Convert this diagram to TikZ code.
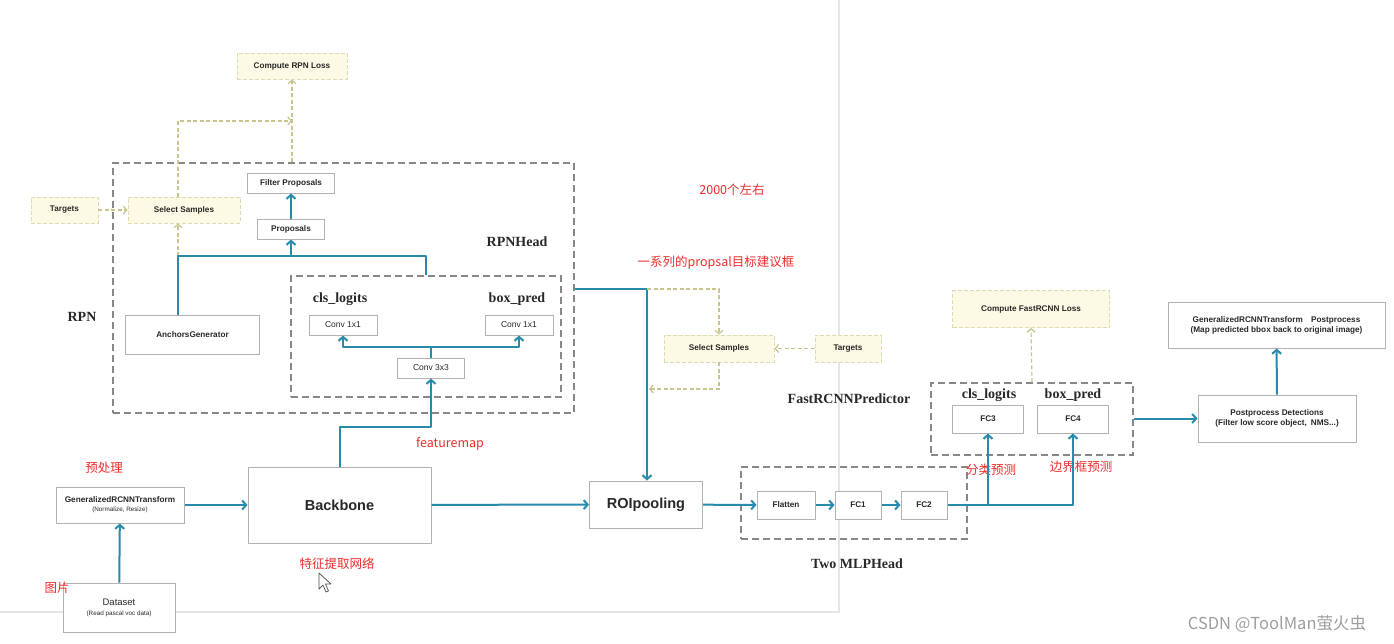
\documentclass[tikz,border=0pt]{standalone}
\usepackage{fontspec}
\setmainfont{Liberation Sans}
\newfontfamily\serifb{Liberation Serif}
\newfontfamily\cjk{Noto Sans CJK SC}
\usetikzlibrary{arrows.meta}
\definecolor{tealA}{RGB}{40,138,172}
\definecolor{oliveA}{RGB}{200,196,140}
\definecolor{yfill}{RGB}{252,250,228}
\definecolor{yborder}{RGB}{222,219,180}
\definecolor{gbox}{RGB}{178,178,178}
\definecolor{gdash}{RGB}{135,135,135}
\definecolor{redt}{RGB}{240,45,45}
\definecolor{txt}{RGB}{40,40,40}
\newcommand\subtxt[1]{{\mdseries\fontsize{6.3}{8}\selectfont #1}}
\tikzset{
  box/.style={draw=gbox, fill=white, line width=1pt, inner sep=0pt, align=center,
    text=txt, font=\bfseries\fontsize{8.2}{10}\selectfont},
  ybox/.style={draw=yborder, fill=yfill, dash pattern=on 4pt off 2pt, line width=0.9pt,
    inner sep=0pt, align=center, text=txt, font=\bfseries\fontsize{8.2}{10}\selectfont},
  grp/.style={draw=gdash, dash pattern=on 7pt off 4pt, line width=1.2pt, inner sep=0pt},
  tline/.style={draw=tealA, line width=2pt, line join=round},
  flow/.style={tline, -{Straight Barb[length=4pt,width=9pt]}},
  dline/.style={draw=oliveA, line width=1.2pt, dash pattern=on 4pt off 2.5pt},
  dflow/.style={dline, -{Straight Barb[length=3.5pt,width=8pt]}},
  lbl/.style={font=\serifb\bfseries\fontsize{14}{16}\selectfont, text=txt, inner sep=0pt},
  note/.style={font=\cjk\fontsize{12.5}{15}\selectfont, text=redt, inner sep=0pt},
}
\begin{document}
\begin{tikzpicture}[x=1pt,y=-1pt]
\useasboundingbox (0,0) rectangle (1394,643);
\fill[white] (0,0) rectangle (1394,643);
% faint screenshot edges
\draw[black!10, line width=1.3pt] (839,0) -- (839,612) -- (0,612);

% group boxes
\node[grp, minimum width=461, minimum height=250] (rpn) at (343.5,288) {};
\node[grp, minimum width=270, minimum height=121] (rpnhead) at (426,336.5) {};
\node[grp, minimum width=202, minimum height=72] (pred) at (1032,419) {};
\node[grp, minimum width=226, minimum height=72] (mlp) at (854,503) {};

% yellow boxes
\node[ybox, minimum width=110, minimum height=26] (rpnloss) at (292,66) {Compute RPN Loss};
\node[ybox, minimum width=67, minimum height=26] (tr1) at (64.5,210) {Targets};
\node[ybox, minimum width=112, minimum height=26] (ss1) at (184,210) {Select Samples};
\node[ybox, minimum width=110, minimum height=27] (ss2) at (719,348.5) {Select Samples};
\node[ybox, minimum width=66, minimum height=27] (tr2) at (848,348.5) {Targets};
\node[ybox, minimum width=157, minimum height=37] (loss2) at (1031,309) {Compute FastRCNN Loss};

% plain boxes
\node[box, minimum width=87, minimum height=20] (filt) at (291,183) {Filter Proposals};
\node[box, minimum width=67, minimum height=20] (prop) at (291,229) {Proposals};
\node[box, minimum width=134, minimum height=39] (ag) at (192.5,334.5) {AnchorsGenerator};
\node[box, minimum width=68, minimum height=20, font=\fontsize{8.5}{10}\selectfont] (c11a) at (343,325) {Conv 1x1};
\node[box, minimum width=68, minimum height=20, font=\fontsize{8.5}{10}\selectfont] (c11b) at (519,325) {Conv 1x1};
\node[box, minimum width=67, minimum height=20, font=\fontsize{8.5}{10}\selectfont] (c33) at (431,368) {Conv 3x3};
\node[box, minimum width=128, minimum height=36] (grt) at (120,505) {GeneralizedRCNNTransform\\[-1pt]\subtxt{(Normalize, Resize)}};
\node[box, minimum width=112, minimum height=49, font=\fontsize{9.5}{11}\selectfont] (ds) at (119,607.5) {Dataset\\[-1pt]\subtxt{(Read pascal voc data)}};
\node[box, minimum width=183, minimum height=76, font=\bfseries\fontsize{14.5}{16}\selectfont] (bb) at (339.5,505) {Backbone};
\node[box, minimum width=113, minimum height=47, font=\bfseries\fontsize{14.5}{16}\selectfont] (roi) at (646,504.5) {ROIpooling};
\node[box, minimum width=58, minimum height=28] (flat) at (786,505) {Flatten};
\node[box, minimum width=46, minimum height=28] (fc1) at (858,505) {FC1};
\node[box, minimum width=46, minimum height=28] (fc2) at (924,505) {FC2};
\node[box, minimum width=71, minimum height=28] (fc3) at (988,419) {FC3};
\node[box, minimum width=71, minimum height=28] (fc4) at (1073,419) {FC4};
\node[box, minimum width=158, minimum height=47] (pp) at (1277,418.5) {Postprocess Detections\\(Filter low score object,\enspace NMS...)};
\node[box, minimum width=217, minimum height=46] (gtp) at (1276.5,325) {GeneralizedRCNNTransform\quad Postprocess\\(Map predicted bbox back to original image)};

% labels
\node[lbl] (lrpn) at (82,317) {RPN};
\node[lbl] (lrpnhead) at (517,242) {RPNHead};
\node[lbl] (lcls1) at (340,299) {cls\_logits};
\node[lbl] (lbox1) at (517,299) {box\_pred};
\node[lbl] (lpred) at (849,399) {FastRCNNPredictor};
\node[lbl] (lcls2) at (989,395) {cls\_logits};
\node[lbl] (lbox2) at (1073,395) {box\_pred};
\node[lbl] (lmlp) at (857,564) {Two MLPHead};

% red notes
\node[note] (n1) at (732,190) {2000个左右};
\node[note] (n2) at (716,263) {一系列的propsal目标建议框};
\node[note] (n3) at (450,444) {featuremap};
\node[note] (n4) at (104,468) {预处理};
\node[note] (n5) at (57,588) {图片};
\node[note] (n6) at (337,564) {特征提取网络};
\node[note] (n7) at (991,470) {分类预测};
\node[note] (n8) at (1081,467) {边界框预测};

% watermark
\node[font=\cjk\fontsize{16.5}{18}\selectfont, text=black!38, inner sep=0pt] (wm) at (1277,624) {CSDN @ToolMan萤火虫};

% coordinates
\coordinate (t1) at (178,256);
\coordinate (t2) at (426,256);
\coordinate (j1) at (292,121);
\coordinate (c1) at (431,347);
\coordinate (b1) at (340,427);
\coordinate (r1) at (647,289);
\coordinate (r2) at (649,389);
\coordinate (f1) at (988,505);

% RPN region
\draw[dflow] (tr1) -- (ss1);
\draw[dflow] (t1) -- (ss1.south -| t1);
\draw[dflow] (ss1.north -| t1) |- (j1);
\draw[dflow] (rpn.north -| rpnloss) -- (rpnloss.south);
\draw[tline] (ag.north -| t1) -- (t1) -- (t2) -- (rpnhead.north -| t2);
\draw[flow] (prop.south |- t1) -- (prop.south);
\draw[flow] (prop) -- (filt);
\draw[tline] (c33.north) -- (c1);
\draw[flow] (c1) -| (c11a.south);
\draw[flow] (c1) -| (c11b.south);
\draw[flow] (bb.north -| b1) -- (b1) -| (c33.south);

% main flow
\draw[flow] (ds) -- (grt);
\draw[flow] (grt.east) -- (bb.west |- grt.east);
\draw[flow] (bb) -- (roi);
\draw[flow] (rpn.east |- r1) -- (r1) -- (roi.north -| r1);
\draw[dflow] (r1) -| (ss2.north);
\draw[dflow] (ss2.south) |- (r2);
\draw[dflow] (tr2) -- (ss2);
\draw[flow] (roi) -- (flat);
\draw[flow] (flat) -- (fc1);
\draw[flow] (fc1) -- (fc2);
\draw[tline] (fc2.east) -- (f1);
\draw[flow] (f1) -- (fc3.south);
\draw[flow] (f1) -| (fc4.south);
\draw[dflow] (pred.north) -- (loss2.south);
\draw[flow] (pred.east |- pp.west) -- (pp.west);
\draw[flow] (pp) -- (gtp);

% mouse cursor
\draw[black!70, fill=white, line width=0.7pt, line join=round]
  (319,573) -- (319,589) -- (323,585) -- (326,592) -- (328.5,591) -- (325.5,584) -- (331,584) -- cycle;
\end{tikzpicture}
\end{document}
